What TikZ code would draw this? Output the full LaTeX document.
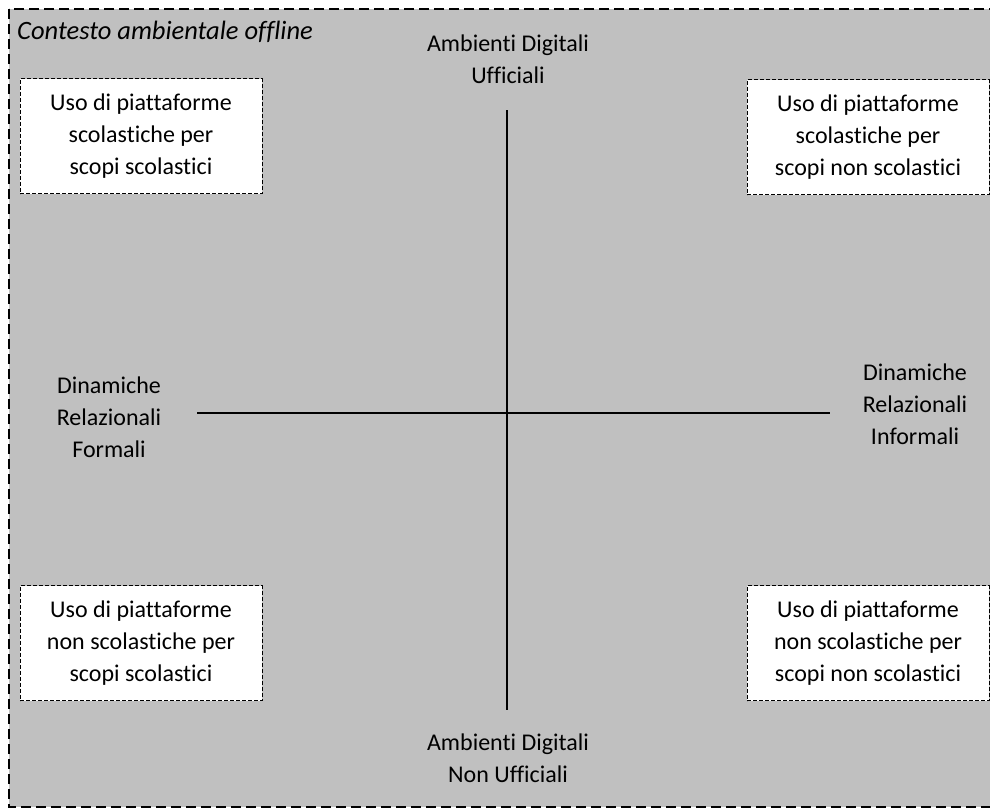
\documentclass[tikz,border=0pt]{standalone}
\usepackage{fontspec}
\setmainfont[Ligatures=NoCommon]{Carlito}
\definecolor{panelgray}{RGB}{192,192,192}
\tikzset{
  quadbox/.style={draw=black, fill=white, line width=1pt, dash pattern=on 4pt off 2pt,
    minimum width=242pt, minimum height=115pt, align=center, inner sep=0pt},
  axislabel/.style={align=center, inner sep=0pt},
  axisline/.style={draw=black, line width=1.3pt},
  every node/.style={font=\fontsize{24}{32}\selectfont}
}
\begin{document}
\begin{tikzpicture}[x=1pt, y=-1pt]
  \useasboundingbox (0,0) rectangle (990,809);
  % outer context frame
  \begin{scope}
    \clip (0,0) rectangle (990,809);
    \draw[fill=panelgray, line width=2.8pt, dash pattern=on 10pt off 5pt] (9,9) rectangle (996,807);
  \end{scope}
  \node[anchor=west, inner sep=0pt, font=\fontsize{26.5}{30}\selectfont\itshape] (ctx) at (17,32) {Contesto ambientale offline};

  % axes
  \coordinate (top) at (507,110);
  \coordinate (bottom) at (507,710);
  \coordinate (left) at (197,413);
  \coordinate (right) at (830,413);
  \draw[axisline] (top) -- (bottom);
  \draw[axisline] (left) -- (right);

  % axis labels
  \node[axislabel] (up) at (508,59) {Ambienti Digitali\\Ufficiali};
  \node[axislabel] (down) at (508,758) {Ambienti Digitali\\Non Ufficiali};
  \node[axislabel] (formal) at (109,417) {Dinamiche\\Relazionali\\Formali};
  \node[axislabel] (informal) at (915,404) {Dinamiche\\Relazionali\\Informali};

  % quadrant boxes
  \node[quadbox] (tl) at (141,136) {Uso di piattaforme\\scolastiche per\\scopi scolastici};
  \node[quadbox] (tr) at (868,137) {Uso di piattaforme\\scolastiche per\\scopi non scolastici};
  \node[quadbox] (bl) at (141,643) {Uso di piattaforme\\non scolastiche per\\scopi scolastici};
  \node[quadbox] (br) at (868,643) {Uso di piattaforme\\non scolastiche per\\scopi non scolastici};
\end{tikzpicture}
\end{document}
